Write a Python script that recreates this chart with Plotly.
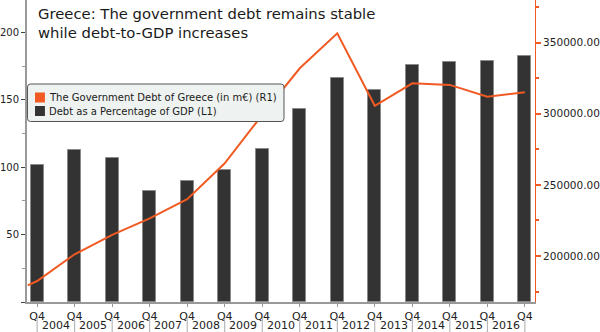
import plotly.graph_objects as go

# ---- data ----
quarters = ["Q4"] * 14
years = ["2004", "2005", "2006", "2007", "2008", "2009", "2010",
         "2011", "2012", "2013", "2014", "2015", "2016"]
bar_pos = list(range(14))
debt_pct_gdp = [101.6, 112.7, 107.0, 82.5, 90.0, 97.9, 113.7,
                143.1, 165.9, 157.3, 176.0, 177.7, 178.5, 182.4]
line_pos = [-0.25] + bar_pos
debt_meur = [179300, 182400, 201200, 214800, 226500, 239900, 265200, 299200,
             332000, 356600, 305600, 321400, 320300, 312000, 315100]
legend_names = ["The Government Debt of Greece (in m€) (R1)", "Debt as a Percentage of GDP (L1)"]
title_text = "Greece: The government debt remains stable<br>while debt-to-GDP increases"

ORANGE = "#f15a22"
DARK = "#333333"
FONT = "DejaVu Sans"

# pixel geometry of the plot area (for placing decorations in paper units)
L, R, T, B = 27, 63, 0, 30
W, H = 600, 332
PW, PH = W - L - R, H - T - B


def px_x(px):
    return (px - L) / PW


def px_y(py):
    return 1 - (py - T) / PH


fig = go.Figure()

fig.add_trace(go.Bar(x=bar_pos, y=debt_pct_gdp, name=legend_names[1],
                     marker=dict(color=DARK, line=dict(color="#8a8a8a", width=1)),
                     width=0.35, yaxis="y", showlegend=False))
fig.add_trace(go.Scatter(x=line_pos, y=debt_meur, mode="lines", yaxis="y2", name=legend_names[0],
                         line=dict(color=ORANGE, width=2), showlegend=False))

# year labels between quarter ticks, with separators
for i, yr in enumerate(years):
    fig.add_annotation(x=i + 0.5, y=0, xref="x", yref="paper", text=yr, showarrow=False,
                       yanchor="middle", yshift=-23, font=dict(family=FONT, size=11, color="#222"))
for i in range(len(years) + 1):
    fig.add_shape(type="line", xref="x", yref="paper", x0=i, x1=i, y0=px_y(318), y1=px_y(333),
                  line=dict(color="#aaaaaa", width=1))

# title
fig.add_annotation(x=px_x(36), y=px_y(23), xref="paper", yref="paper", xanchor="left",
                   yanchor="middle", text=title_text, showarrow=False, align="left",
                   font=dict(family=FONT, size=14.8, color="#1a1a1a"))

# legend box (rounded)
x0, x1, y0, y1 = px_x(27.5), px_x(285), px_y(84), px_y(121.5)
rx, ry = 3 / PW, 3 / PH
path = (f"M {x0+rx},{y0} L {x1-rx},{y0} Q {x1},{y0} {x1},{y0-ry} L {x1},{y1+ry} "
        f"Q {x1},{y1} {x1-rx},{y1} L {x0+rx},{y1} Q {x0},{y1} {x0},{y1+ry} "
        f"L {x0},{y0-ry} Q {x0},{y0} {x0+rx},{y0} Z")
fig.add_shape(type="path", xref="paper", yref="paper", path=path,
              fillcolor="#eef2f0", line=dict(color="#555555", width=1), layer="above")
for name, color, cy in zip(legend_names, [ORANGE, DARK], [97.5, 111]):
    fig.add_shape(type="rect", xref="paper", yref="paper", x0=px_x(35), x1=px_x(45),
                  y0=px_y(cy - 5), y1=px_y(cy + 5), fillcolor=color, line=dict(width=0),
                  layer="above")
    fig.add_annotation(x=px_x(47), y=px_y(cy), xref="paper", yref="paper", xanchor="left",
                       yanchor="middle", text=name, showarrow=False,
                       font=dict(family=FONT, size=10, color="#1a1a1a"))

fig.update_layout(
    width=W, height=H,
    margin=dict(l=L, r=R, t=T, b=B),
    paper_bgcolor="white", plot_bgcolor="white",
    bargap=0,
    showlegend=False,
    xaxis=dict(range=[-0.27, 13.27], tickmode="array", tickvals=bar_pos, ticktext=quarters,
               showline=True, linecolor="#999999", linewidth=2, ticks="outside", ticklen=3,
               tickcolor="#999999", showgrid=False, zeroline=False,
               tickfont=dict(family=FONT, size=11, color="#222")),
    yaxis=dict(range=[0, 224], tickmode="array", tickvals=[0, 50, 100, 150, 200],
               ticktext=["", "50", "100", "150", "200"],
               showline=True, linecolor="#999999", linewidth=2, ticks="outside", ticklen=4,
               tickcolor="#444444", showgrid=False, zeroline=False,
               minor=dict(dtick=25, tick0=0, ticks="outside", ticklen=3, tickcolor="#999999"),
               tickfont=dict(family=FONT, size=10, color="#222")),
    yaxis2=dict(range=[167650, 380020], overlaying="y", side="right", anchor="x",
                tickmode="array", tickvals=[200000, 250000, 300000, 350000], tickformat=".2f",
                showline=True, linecolor=ORANGE, linewidth=1, ticks="outside", ticklen=5,
                tickcolor=ORANGE, tickwidth=2, showgrid=False, zeroline=False,
                minor=dict(dtick=25000, tick0=0, ticks="outside", ticklen=3, tickcolor=ORANGE),
                tickfont=dict(family=FONT, size=10.5, color="#222")),
)

fig.write_html("out.html")
